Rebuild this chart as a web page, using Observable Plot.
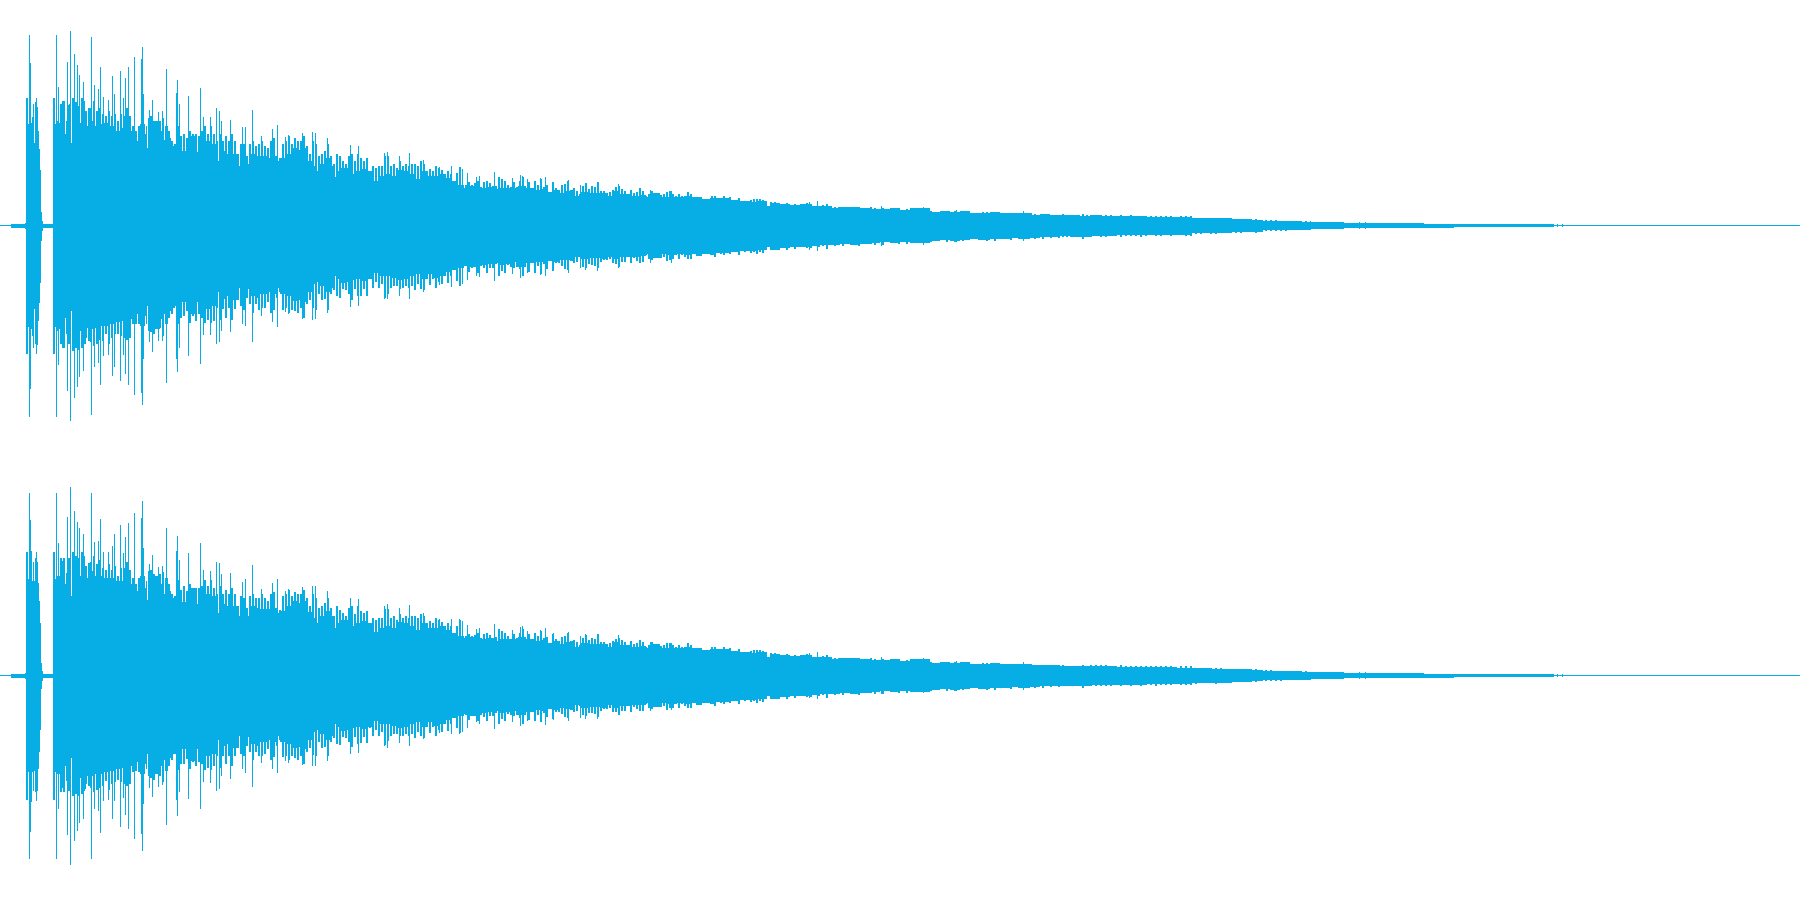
<!DOCTYPE html>
<html>
<head>
<meta charset="utf-8">
<script src="https://cdn.jsdelivr.net/npm/d3@7"></script>
<script src="https://cdn.jsdelivr.net/npm/@observablehq/plot@0.6"></script>
<style>
html,body{margin:0;padding:0;background:#fff;}
svg{display:block;}
</style>
</head>
<body>
<div id="chart"></div>
<script>
const waveColor = "#06aee5";

// Columns where the solid body of the waveform changes level
const bodyX = [
0,11,13,25,26,28,30,31,32,33,
34,35,36,37,38,39,40,41,42,43,
53,55,56,59,61,62,65,66,68,71,
72,75,78,82,85,87,88,92,95,100,
104,110,116,122,127,130,132,135,138,140,
145,146,147,148,150,154,155,160,163,165,
168,171,175,178,182,186,190,195,197,200,
202,206,212,218,220,226,232,238,244,247,
250,255,260,268,272,278,279,280,285,292,
298,305,308,312,317,318,324,332,333,336,
340,346,352,356,362,368,372,378,385,392,
398,404,410,416,422,428,434,440,446,450,
456,464,470,478,486,492,500,506,512,518,
526,534,542,548,552,558,566,570,574,580,
590,600,606,612,620,630,640,646,652,660,
668,676,684,690,696,702,710,716,724,730,
740,750,758,767,770,780,790,800,812,820,
830,840,850,860,872,880,890,900,910,918,
930,940,950,960,970,980,990,1000,1010,1020,
1030,1040,1050,1060,1070,1080,1090,1100,1115,1130,
1145,1160,1175,1190,1191,1210,1230,1250,1262,1263,
1300,1310,1311,1343,1344,1423,1424,1453,1454,1553,
1554,1800];

const topUp = [
.5,2,2,3,128,102,163,103,109,122,
83,124,128,119,95,77,56,14,5,2,
128,102,105,103,83,125,92,105,121,83,
123,118,103,125,115,90,118,105,100,102,
103,100,95,98,95,95,90,85,88,102,
80,100,72,108,100,72,105,95,86,100,
88,80,72,85,75,72,90,88,74,78,
70,85,82,65,75,72,72,60,68,62,
72,70,70,68,70,65,55,68,72,78,
76,78,65,60,55,62,68,60,49,55,
58,58,52,55,57,55,45,50,52,50,
56,55,52,47,55,50,50,52,48,45,
41,38,40,38,39,37,38,38,38,40,
38,36,37,34,36,33,35,36,30,34,
33,33,30,35,32,30,31,29,33,29,
29,29,30,29,29,27,28,28,28,26,
25,24,25,20,23,22,21,22,20,20,
18,19,19,18,17,17,18,16,18,18,
14,15,14,15,13,13,14,13,13,13,
11,12,11,11,11,10,11,10,9.5,9.5,
9,9,8.5,9,7.5,7.5,6.5,6,6,4.5,
4,4.5,3.5,3.5,2.3,2.3,2,2,1.5,1.5,
.5,.5];

const topDown = [
.5,2,2,3,128,101,163,103,110,122,
83,118,128,119,95,77,57,15,5,2,
128,101,105,103,83,122,92,103,118,85,
122,115,105,118,112,92,115,103,102,100,
100,98,96,95,96,93,92,88,85,100,
82,98,74,105,100,75,103,93,88,98,
85,82,72,83,76,70,88,85,76,76,
72,83,80,66,73,70,74,62,66,63,
70,72,68,66,68,62,55,68,70,75,
74,76,66,58,56,60,66,62,50,53,
57,56,54,53,55,53,47,50,50,52,
54,53,50,48,53,48,52,50,46,44,
42,40,41,39,38,37,39,38,36,41,
37,36,36,35,36,34,34,35,31,33,
32,33,31,33,31,31,30,28,32,28,
29,28,29,28,30,28,29,27,27,26,
25,25,24,21,24,22,21,21,20,19,
19,18,19,18,17,16,17,16,17,17,
15,14,15,14,13,14,13,13,12,13,
12,11,11,10,11,11,10,10,9.5,9.5,
9,9,9,8.5,7.5,7.5,6.5,6,6,4.5,
4,4.5,3.5,3.5,2.3,2.3,2,2,1.5,1.5,
.5,.5];

const bottomUp = [
.5,2,2,3,124,97,156,125,95,114,
95,118,124,114,93,75,53,13,5,2,
124,97,100,100,82,115,92,100,118,80,
118,115,100,120,110,88,113,105,100,100,
98,98,95,95,95,92,90,85,88,100,
75,95,68,105,98,70,100,92,82,98,
85,78,72,83,74,70,88,85,72,78,
68,82,80,63,72,70,70,60,66,60,
70,68,67,67,68,63,54,65,70,75,
73,75,64,58,53,60,65,60,48,53,
56,56,50,53,55,53,44,48,50,48,
54,53,50,46,53,48,48,50,46,43,
40,38,39,37,38,35,37,37,37,39,
37,35,36,33,35,32,34,35,29,33,
32,32,29,34,31,29,30,28,32,28,
28,28,29,28,28,26,27,27,27,25,
24,23,24,19,22,21,20,21,19,19,
17,18,18,17,16,16,17,15,17,17,
13,14,13,14,12,12,13,12,12,12,
11,11,11,10,10,10,10,9.5,9,9,
8.5,8.5,8,8.5,7.5,7,6.5,5.5,5.5,4.5,
4,4,3.5,3.5,2.3,2.3,2,2,1.5,1.5,
.5,.5];

const bottomDown = [
.5,2,2,3,124,96,156,126,96,115,
95,116,125,115,93,76,54,13,5,2,
124,96,98,98,80,112,90,98,115,82,
116,112,102,115,108,90,110,100,98,98,
96,95,93,92,93,90,90,86,84,98,
77,93,70,100,96,72,98,90,84,95,
82,78,70,80,73,68,85,82,73,74,
70,80,78,64,70,68,72,60,64,61,
68,70,66,64,66,60,53,66,68,72,
71,73,64,56,54,58,64,60,48,51,
55,54,52,51,53,51,45,48,48,50,
52,51,48,46,51,46,50,48,44,42,
40,38,40,37,36,35,37,36,35,39,
36,34,35,33,34,32,33,34,29,32,
31,32,29,32,30,29,29,27,31,27,
28,27,28,27,29,27,28,26,26,25,
24,24,23,20,23,21,20,20,19,18,
18,17,18,17,16,15,16,15,16,16,
14,13,14,13,12,13,12,12,11,12,
11,10,10,10,10,10,9.5,9.5,9,9,
8.5,8.5,8.5,8,7.5,7,6.5,5.5,5.5,4.5,
4,4,3.5,3.5,2.3,2.3,2,2,1.5,1.5,
.5,.5];

// Single-column peaks that stand out above the body
const spikeX = [
29,56,58,67,70,74,77,79,83,91,
94,98,100,103,108,112,114,120,123,125,
128,134,141,142,143,149,152,158,162,166,
176,177,179,188,200,203,210,216,219,221,
230,242,245,252,261,272,277,285,288,302,
312,315,327,350,358,384,387,399,409,423,
439,451,459,462,467,476,479,494,498,512,
520,522,527,540,545,553,568,580,585,597,
618,650,671,809,817,881,923,956,1023,1359,
1365,1557,1562];

const topSpikeUp = [
191,191,139,164,195,172,161,151,144,189,
141,137,159,129,126,150,132,155,128,148,
159,169,167,179,132,116,126,114,115,157,
133,146,122,130,138,109,109,118,115,105,
106,99,99,116,90,97,101,89,91,93,
94,93,88,81,80,73,74,70,73,66,
59,60,59,57,53,49,50,54,49,48,
51,50,47,48,49,44,46,41,43,44,
42,36,35,24,25,20,19,16,15,3.5,
3.5,1.5,1.5];

const topSpikeDown = [
191,191,139,165,195,172,161,151,145,189,
141,137,159,130,129,150,141,155,129,148,
159,169,167,179,133,116,126,115,115,157,
133,146,122,130,138,109,109,118,116,105,
106,98,100,116,90,96,101,86,88,93,
94,93,87,81,80,73,73,70,73,66,
59,61,60,58,54,50,51,55,50,48,
52,50,47,49,50,45,47,42,44,45,
42,37,37,24,25,20,19,16,15,3.5,
3.5,1.5,1.5];

const bottomSpikeUp = [
183,183,133,159,189,165,154,148,142,183,
134,135,157,124,124,130,142,151,123,139,
153,163,158,175,128,112,121,109,110,148,
125,140,116,123,133,106,105,114,113,102,
103,94,97,111,87,93,97,85,87,89,
90,90,85,78,77,70,72,68,71,63,
57,57,57,55,51,47,48,52,47,46,
49,50,45,46,48,43,44,40,42,42,
41,34,33,23,24,19,18,15,14,3.5,
3.5,1.5,1.5];

const bottomSpikeDown = [
183,183,133,159,189,165,155,147,143,183,
133,135,157,125,124,143,125,151,122,139,
153,163,158,175,128,112,121,111,109,149,
124,140,116,123,133,106,107,115,113,100,
103,93,97,111,87,93,97,85,87,89,
90,90,85,78,77,70,72,67,70,63,
57,58,58,56,52,46,48,53,46,46,
50,48,45,46,49,44,45,42,43,43,
38,35,34,22,23,18,17,15,14,3.5,
3.5,1.5,1.5];

// The dense small peaks on the body's edge, read along a regular column grid
const teethX = [
  ...d3.range(60, 450, 3),
  ...d3.range(450, 771, 3),
  ...d3.range(770, 1090, 4),
  ...d3.range(1090, 1310, 5)
];

const topTeethUp = [
122,124,105,122,128,124,120,128,115,100,
118,125,115,118,112,110,115,110,112,105,
112,110,118,110,100,95,100,110,92,78,
110,105,100,105,108,85,95,85,82,100,
90,92,88,95,92,92,90,95,100,92,
100,92,85,92,85,90,85,92,85,72,
82,82,70,82,85,80,82,85,80,78,
85,88,70,68,82,85,90,82,88,85,
85,90,80,72,85,82,70,72,75,82,
70,62,72,70,65,62,70,72,65,72,
68,65,68,55,60,58,60,60,70,70,
60,62,58,65,60,62,60,62,62,60,
65,62,55,57,55,60,58,56,50,55,
52,40,53,59,40,41,44,41,43,45,
39,44,45,43,40,40,49,47,45,41,
39,44,39,45,49,38,44,38,45,41,
47,39,41,33,44,38,36,41,42,45,
34,38,35,32,40,43,37,40,39,44,
35,35,33,34,36,39,40,37,35,32,
36,33,34,38,35,30,32,35,27,31,
31,32,34,35,32,30,32,30,30,34,
32,27,28,28,27,26,25,30,30,28,
27,30,24,29,24,25,28,25,25,24,
26,27,27,27,26,25,20,
24,24,23,21,23,21,22,21,20,23,
21,20,20,21,22,20,19,19,19,18,
17,19,19,18,17,19,18,16,18,17,
16,17,17,16,17,17,16,17,15,18,
15,14,14,15,15,14,15,14,14,15,
12,13,13,14,14,14,14,12,12,13,
13,12,12,13,12,13,12,10,12,12,
11,10,11,12,10,11,10,11,12,11,
11,11,11,11,11,10,11,10,11,10,
10,10,10,10,10,10,10,9,10,10,
10,8,8,8,8,8,8,7.5,7.5,7,
7,7,6.5,7,6,6,5.5,5.5,5,5,
5,4.5,4.5,4.5];

const topTeethDown = [
118,122,108,118,125,122,124,122,118,102,
116,120,118,114,115,108,118,112,108,108,
110,112,114,112,98,98,98,108,90,80,
106,108,98,102,110,88,92,88,80,98,
92,90,85,97,90,95,88,92,97,94,
97,95,82,94,83,92,82,94,83,74,
80,84,72,78,87,78,84,82,82,76,
87,84,72,66,84,82,87,84,85,87,
82,92,78,74,82,84,68,74,73,84,
68,64,70,72,63,64,68,74,63,70,
70,63,70,53,62,56,62,58,72,68,
62,60,60,63,62,60,62,60,64,58,
63,64,53,59,53,62,56,58,48,57,
50,42,55,60,42,40,46,42,41,47,
40,42,47,42,42,38,50,45,47,39,
41,42,41,43,50,37,46,37,47,40,
48,38,43,32,45,37,37,40,43,44,
35,37,36,31,41,42,38,39,40,42,
36,34,34,33,37,38,41,36,36,31,
37,32,35,37,36,29,33,34,28,30,
32,31,35,34,33,29,33,29,31,33,
33,26,29,27,28,25,26,29,31,27,
28,29,25,28,25,24,29,24,26,23,
27,26,28,26,27,24,21,
24,23,24,20,24,20,23,20,21,22,
22,19,21,20,23,19,20,18,20,17,
18,18,20,17,18,18,19,15,19,16,
17,16,18,15,18,16,17,16,16,17,
16,13,15,14,16,13,16,13,15,14,
13,12,14,13,15,13,15,11,13,12,
14,11,13,12,13,12,13,10,13,11,
12,9.5,12,11,11,10,11,10,13,10,
11,10,11,11,10,10,11,10,10,10,
11,10,9.5,10,10,9.5,10,9,9.5,10,
10,8,8,7.5,8,8,7.5,7.5,7,7,
7,6.5,6.5,7,6,5.5,5.5,5.5,5,5,
4.5,4.5,4.5,4.5];

const bottomTeethUp = [
118,118,103,118,124,120,118,124,110,98,
114,120,112,116,108,106,112,106,110,100,
108,108,114,106,98,92,98,106,88,76,
106,102,96,102,104,82,92,82,80,96,
86,90,85,92,88,88,88,90,96,90,
96,88,82,90,82,86,82,88,82,70,
80,78,68,80,82,78,78,82,78,75,
82,84,68,66,80,82,86,80,84,82,
82,86,78,70,82,78,68,70,73,78,
68,60,70,66,63,60,68,70,62,70,
65,63,65,53,58,56,58,58,67,67,
58,60,56,62,58,60,58,60,60,58,
62,60,53,55,53,58,56,54,48,53,
50,38,50,56,38,40,42,40,41,43,
38,42,43,41,38,39,47,45,43,40,
37,42,38,43,47,37,42,37,43,40,
45,38,39,32,42,37,35,39,40,43,
33,36,34,31,38,41,36,38,37,42,
34,34,32,33,35,37,38,36,34,31,
35,32,33,36,34,29,31,34,26,30,
30,31,33,33,31,29,31,29,29,33,
31,26,27,27,26,25,24,29,29,27,
26,29,23,28,23,24,27,24,24,23,
25,26,26,26,25,24,19,
23,23,22,20,22,20,21,20,19,22,
20,19,19,20,21,19,18,18,18,17,
17,18,18,17,16,18,17,15,17,16,
15,16,16,15,16,16,15,16,14,17,
14,13,13,14,14,13,14,13,13,14,
12,12,12,13,13,13,13,11,12,12,
12,11,12,12,11,12,11,10,11,11,
10,10,10,11,10,10,10,10,11,10,
10.5,10.5,10.5,10.5,10,10,10.5,10,10,10,
10,9.5,9.5,9.5,9.5,9.5,9.5,9,9.5,9.5,
9.5,8,8,7.5,8,8,7.5,7,7,7,
6.5,6.5,6.5,6.5,6,5.5,5.5,5,5,5,
4.5,4.5,4.5,4.5];

const bottomTeethDown = [
116,116,105,115,120,118,120,118,113,100,
112,116,114,112,110,105,114,108,106,104,
106,108,110,108,96,95,96,104,88,78,
102,104,94,100,106,85,90,84,78,94,
88,88,83,93,86,90,86,88,94,92,
94,90,80,92,80,88,80,90,80,72,
78,80,70,76,84,76,80,80,78,73,
84,81,70,64,81,80,84,80,82,84,
80,88,76,72,79,80,66,72,71,80,
66,62,68,69,61,62,66,71,61,68,
67,61,67,52,60,54,60,56,69,65,
60,58,58,60,60,58,60,58,62,56,
60,62,51,57,51,60,54,56,46,55,
48,40,52,57,40,39,44,40,40,45,
39,41,45,40,40,37,48,43,45,38,
39,40,39,42,48,36,44,36,45,39,
46,37,41,31,43,36,36,38,41,42,
34,36,35,30,39,40,37,37,38,41,
35,33,33,32,36,36,39,35,35,30,
36,31,33,35,35,28,32,33,27,29,
31,30,34,32,32,28,32,28,30,32,
32,25,28,26,27,24,25,28,30,26,
27,28,24,27,24,23,28,23,25,22,
26,25,27,25,26,23,20,
23,22,23,19,23,19,22,19,20,21,
21,18,20,19,22,18,19,17,19,16,
17,17,19,16,17,17,18,14,18,15,
16,15,17,14,17,15,16,15,15,16,
15,12,14,13,15,12,15,12,14,13,
12,11,13,12,14,12,14,10,12,11,
13,10,12,11,12,11,12,9.5,12,10,
11,9,11,10,10,9.5,10,9.5,12,9.5,
10.5,10,10.5,10,10,9.5,10.5,9.5,10,9.5,
10,9.5,9,10,9.5,9,9.5,8.5,9,9.5,
9.5,8,7.5,7.5,7.5,8,7,7,7,6.5,
6.5,6.5,6,6.5,5.5,5.5,5.5,5,5,4.5,
4.5,4.5,4.5,4.5];

const xDomain = [0, 1800];
const levelDomain = [-224.5, 225.5];

function channel(up, down, spikeUp, spikeDown, teethUp, teethDown) {
  return Plot.plot({
    width: 1800, height: 450,
    marginTop: 0, marginRight: 0, marginBottom: 0, marginLeft: 0,
    style: {background: "#fff"},
    x: {domain: xDomain, axis: null},
    y: {domain: levelDomain, axis: null},
    marks: [
      Plot.areaY(bodyX, {
        x: bodyX, y1: up, y2: down.map(d => -d),
        curve: "step-after", fill: waveColor, shapeRendering: "crispEdges"
      }),
      Plot.ruleX(teethX, {
        x: teethX, y1: teethUp, y2: teethDown.map(d => -d),
        stroke: waveColor, strokeWidth: 2, shapeRendering: "crispEdges"
      }),
      Plot.ruleX(spikeX, {
        x: spikeX, y1: spikeUp, y2: spikeDown.map(d => -d),
        stroke: waveColor, strokeWidth: 1, shapeRendering: "crispEdges"
      })
    ]
  });
}

const root = document.getElementById("chart");
root.append(channel(topUp, topDown, topSpikeUp, topSpikeDown, topTeethUp, topTeethDown));
root.append(channel(bottomUp, bottomDown, bottomSpikeUp, bottomSpikeDown, bottomTeethUp, bottomTeethDown));
</script>
</body>
</html>
